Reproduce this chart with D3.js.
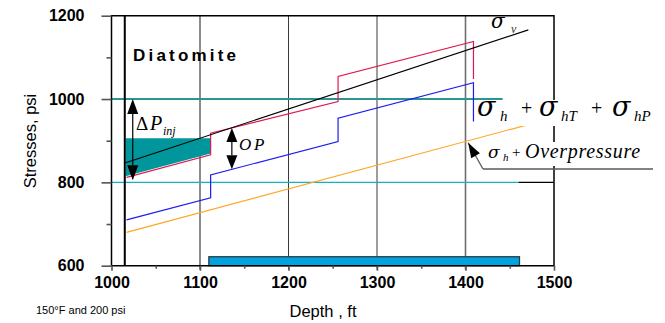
<!DOCTYPE html>
<html><head><meta charset="utf-8">
<script src="https://cdn.jsdelivr.net/npm/d3@7"></script>
<style>body{margin:0;background:#fff}svg{display:block}</style>
</head><body>
<svg id="chart" width="665" height="323"></svg>
<script>
// Depth (ft) break points shared by the two stepped stress profiles
const stepDepths = [1017, 1112, 1112, 1256, 1256, 1409, 1409];
// σh + σhT + σhP (psi)
const totalStress = [812, 866, 918, 994, 1054, 1138, 1048];
// lower stepped profile (psi)
const lowerStress = [710, 763, 818, 898, 954, 1039, 946];
// overburden σv
const overburdenDepths = [1016, 1471];
const overburden = [847, 1166];
// σh + overpressure
const overpressureDepths = [1017, 1470];
const overpressure = [680, 938];
// reference pressure levels and where they stop
const refPressures = [1000, 800];
const refEnds = [1442, 1460];
// injection window (shaded)
const injWindowDepths = [1016, 1112];
const injWindowTop = 906;
const injArrow = {depth: 1024, top: 1000, bottom: 805};
const opDepth = 1136;
const wellDepth = 1015;
const intervalBar = [1110, 1461];
const xMajor = [1000, 1100, 1200, 1300, 1400, 1500];
const xMinor = [1050, 1150, 1250, 1350, 1450];
const yMajor = [600, 800, 1000, 1200];
const yMinor = [700, 900, 1100];
const xGrid = [1100, 1200, 1300, 1400];

const svg = d3.select("#chart");
const x = d3.scaleLinear().domain([1000, 1500]).range([111.5, 554]);
const y = d3.scaleLinear().domain([600, 1200]).range([265.7, 15.7]);

// piecewise-linear lookup along a (non-vertical) segment of a profile
function valueAt(depths, vals, d) {
  for (let i = 0; i < depths.length - 1; i++) {
    if (depths[i + 1] > depths[i] && d >= depths[i] && d <= depths[i + 1]) {
      const t = (d - depths[i]) / (depths[i + 1] - depths[i]);
      return vals[i] + t * (vals[i + 1] - vals[i]);
    }
  }
  return vals[vals.length - 1];
}

// vertical grid lines
svg.append("g").selectAll("line").data(xGrid).join("line")
  .attr("x1", d => x(d)).attr("x2", d => x(d))
  .attr("y1", y(1200)).attr("y2", y(600) + 4)
  .attr("stroke", (d, i) => (i === 0 || i === 3) ? "#6e6e6e" : "#3a3a3a")
  .attr("stroke-width", (d, i) => (i === 0 || i === 3) ? 1.6 : 1);

// shaded injection window
const shadeBottom = d => valueAt(stepDepths, totalStress, d) + 3;
const shadePts = [
  [injWindowDepths[0], injWindowTop], [injWindowDepths[1], injWindowTop],
  [injWindowDepths[1], shadeBottom(injWindowDepths[1] - 0.01)],
  [injWindowDepths[0], shadeBottom(injWindowDepths[0] + 1) - 0.6]
];
svg.append("path")
  .attr("d", d3.line().x(p => x(p[0])).y(p => y(p[1]))(shadePts) + "Z")
  .attr("fill", "#00969b");

// reference pressure lines
svg.append("g").selectAll("line").data(refPressures).join("line")
  .attr("x1", x(1000)).attr("x2", (d, i) => x(refEnds[i]))
  .attr("y1", d => y(d)).attr("y2", d => y(d))
  .attr("stroke", (d, i) => i === 0 ? "#2b9596" : "#12b3c2")
  .attr("stroke-width", (d, i) => i === 0 ? 2 : 1.3);
svg.append("line")
  .attr("x1", x(refEnds[1])).attr("x2", x(1500))
  .attr("y1", y(refPressures[1])).attr("y2", y(refPressures[1]))
  .attr("stroke", "#000").attr("stroke-width", 1.2);

const line = d3.line();
function profile(depths, vals, color, w) {
  svg.append("path")
    .attr("d", line(depths.map((d, i) => [x(d), y(vals[i])])))
    .attr("fill", "none").attr("stroke", color).attr("stroke-width", w);
}
profile(overpressureDepths, overpressure, "#ffa726", 1.1);
profile(stepDepths, lowerStress, "#1c1cf0", 1.2);
profile(stepDepths, totalStress, "#e01a4f", 1.2);
profile(overburdenDepths, overburden, "#000", 1.1);

// interval bar
svg.append("rect")
  .attr("x", x(intervalBar[0])).attr("y", y(621.5))
  .attr("width", x(intervalBar[1]) - x(intervalBar[0]))
  .attr("height", y(600) - y(621.5))
  .attr("fill", "#00a3e0").attr("stroke", "#2d3a40").attr("stroke-width", 1.3);

// well line
svg.append("line")
  .attr("x1", x(wellDepth)).attr("x2", x(wellDepth))
  .attr("y1", y(1200)).attr("y2", y(600))
  .attr("stroke", "#000").attr("stroke-width", 2);

// frame
svg.append("path")
  .attr("d", `M${x(1000)},${y(600)}V${y(1200)}H${x(1500)}V${y(600)}H${x(1000)}`)
  .attr("fill", "none").attr("stroke", "#000").attr("stroke-width", 1.5);

// axes
const fontAx = "Liberation Sans, Arial, sans-serif";
const xa = svg.append("g").attr("transform", `translate(0,${y(600)})`)
  .call(d3.axisBottom(x).tickValues(xMajor).tickSize(5).tickSizeOuter(0).tickPadding(6).tickFormat(d3.format("d")));
const xm = svg.append("g").attr("transform", `translate(0,${y(600)})`)
  .call(d3.axisBottom(x).tickValues(xMinor).tickSize(3).tickSizeOuter(0).tickFormat(""));
const ya = svg.append("g").attr("transform", `translate(${x(1000)},0)`)
  .call(d3.axisLeft(y).tickValues(yMajor).tickSize(10).tickSizeOuter(0).tickPadding(17).tickFormat(d3.format("d")));
const ym = svg.append("g").attr("transform", `translate(${x(1000)},0)`)
  .call(d3.axisLeft(y).tickValues(yMinor).tickSize(5).tickSizeOuter(0).tickFormat(""));
[xa, xm, ya, ym].forEach(g => {
  g.select(".domain").remove();
  g.selectAll("line").attr("stroke", "#555").attr("stroke-width", 1.6);
  g.selectAll("text").attr("font-family", fontAx).attr("font-weight", "bold")
    .attr("font-size", 16).attr("fill", "#000");
});
xa.selectAll("text").attr("dy", "0.72em");

// axis titles
svg.append("text").attr("transform", "translate(36,141) rotate(-90)")
  .attr("text-anchor", "middle").attr("font-family", fontAx).attr("font-size", 16.5)
  .text("Stresses, psi");
svg.append("text").attr("x", 323).attr("y", 317).attr("text-anchor", "middle")
  .attr("font-family", fontAx).attr("font-size", 16.5).text("Depth , ft");
svg.append("text").attr("x", 36).attr("y", 314)
  .attr("font-family", fontAx).attr("font-size", 11).text("150°F and 200 psi");

svg.append("text").attr("x", 133).attr("y", 61)
  .attr("font-family", fontAx).attr("font-weight", "bold").attr("font-size", 17)
  .attr("letter-spacing", 3.2).text("Diatomite");

// double-headed arrows
function dblArrow(xp, y1, y2, hw, hl) {
  const g = svg.append("g");
  g.append("line").attr("x1", xp).attr("x2", xp).attr("y1", y1 + hl).attr("y2", y2 - hl)
    .attr("stroke", "#000").attr("stroke-width", 1.2);
  g.append("path").attr("d", `M${xp},${y1}L${xp - hw},${y1 + hl}L${xp + hw},${y1 + hl}Z`);
  g.append("path").attr("d", `M${xp},${y2}L${xp - hw},${y2 - hl}L${xp + hw},${y2 - hl}Z`);
}
dblArrow(x(injArrow.depth), y(injArrow.top), y(injArrow.bottom), 5.5, 15);
dblArrow(x(opDepth), y(valueAt(stepDepths, totalStress, opDepth)),
  y(valueAt(stepDepths, lowerStress, opDepth)), 5.5, 14);

const serif = "Liberation Serif, Times New Roman, serif";
const greek = "DejaVu Serif, serif";
// each piece: [text, x, baseline, size, italic, fill, family]
function math(parts, extra) {
  const t = svg.append("text").attr("font-family", serif);
  parts.forEach(([s, px, py, fs, it, fill, fam]) => {
    const sp = t.append("tspan").text(s).attr("x", px).attr("y", py).attr("font-size", fs)
      .attr("font-style", it ? "italic" : "normal").attr("fill", fill || "#000");
    if (fam) sp.attr("font-family", fam);
  });
  if (extra) extra(t);
  return t;
}
math([["Δ", 136, 130, 19, false], ["P", 150, 130, 20, true], ["inj", 163, 135, 12, true]]);
math([["O", 239, 150, 17, true], ["P", 254, 150, 17, true]]);
math([["σ", 491, 28, 20, true, null, greek], ["v", 511, 33, 12, true, "#333"]]);

// label boxes that sit over the frame
svg.append("rect").attr("x", 477).attr("y", 100).attr("width", 183).attr("height", 26).attr("fill", "#fff");
svg.append("rect").attr("x", 487).attr("y", 142).attr("width", 164).attr("height", 24).attr("fill", "#fff");

math([["σ", 477, 116, 27, true, null, greek], ["h", 500, 121, 15, true],
  ["+", 521, 115, 20, false], ["σ", 539, 116, 27, true, null, greek], ["hT", 561, 121, 15, true],
  ["+", 591, 115, 20, false], ["σ", 612, 116, 27, true, null, greek], ["hP", 634, 121, 15, true]]);
math([["σ", 488, 158, 17, true, null, greek], ["h", 503, 161, 11, true],
  ["+", 512, 157, 15, false], ["Overpressure", 525, 158, 20, true]],
  t => t.select("tspan:last-child").attr("letter-spacing", 0.7));

// leader to the overpressure line
const tipD = 1403;
const tip = [x(tipD), y(valueAt(overpressureDepths, overpressure, tipD)) + 2];
const elbow = [483, 169];
svg.append("path").attr("d", `M${elbow[0]},${elbow[1]}L${tip[0]},${tip[1]}M${elbow[0]},${elbow[1]}H653`)
  .attr("fill", "none").attr("stroke", "#5a5a5a").attr("stroke-width", 1.3);
{
  const ang = Math.atan2(tip[1] - elbow[1], tip[0] - elbow[0]);
  const L = 15, W = 5;
  const bx = tip[0] - L * Math.cos(ang), by = tip[1] - L * Math.sin(ang);
  const px = -Math.sin(ang) * W, py = Math.cos(ang) * W;
  svg.append("path").attr("d", `M${tip[0]},${tip[1]}L${bx + px},${by + py}L${bx - px},${by - py}Z`);
}
</script>
</body></html>
